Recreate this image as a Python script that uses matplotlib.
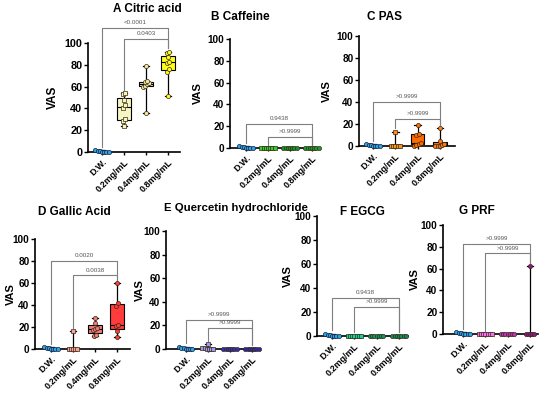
import numpy as np
import matplotlib.pyplot as plt

plt.rcParams['font.family'] = ['Liberation Sans', 'DejaVu Sans']
plt.rcParams['font.weight'] = 'bold'

groups = ["D.W.", "0.2mg/mL", "0.4mg/mL", "0.8mg/mL"]
dw = [2, 1, 1, 0, 0, 0, 0]
zeros = [0, 0, 0, 0, 0, 0, 0]

citric = [dw, [24, 28, 30, 40, 43, 48, 53, 54],
          [36, 60, 61, 62, 63, 64, 65, 79],
          [51, 73, 76, 82, 83, 87, 91, 92]]
caffeine = [dw, zeros, zeros, zeros]
pas = [dw, [13, 0, 0, 0, 0, 0],
       [0, 1, 2, 3, 10, 11, 19],
       [0, 0, 0, 1, 2, 5, 16]]
gallic = [dw, [16, 0, 0, 0, 0, 0],
          [12, 13, 17, 18, 19, 24, 28],
          [11, 16, 21, 22, 39, 42, 60]]
quercetin = [dw, [1, 4, 1, 0, 0, 0, 0], zeros, zeros]
egcg = [dw, zeros, zeros, zeros]
prf = [dw, zeros, zeros, [0, 0, 0, 62, 0, 0]]

titles = ["A Citric acid", "B Caffeine", "C PAS", "D Gallic Acid",
          "E Quercetin hydrochloride", "F EGCG", "G PRF"]
pvals = [["<0.0001", "0.0403"], ["0.9438", ">0.9999"], [">0.9999", ">0.9999"],
         ["0.0020", "0.0038"], [">0.9999", ">0.9999"], ["0.9438", ">0.9999"],
         [">0.9999", ">0.9999"]]
datasets = [citric, caffeine, pas, gallic, quercetin, egcg, prf]

blue = "#29a9e0"
colors = [
    [blue, "#f6f6c4", "#efe9a8", "#ffff1a"],
    [blue, "#33cc33", "#0c9a2c", "#16a035"],
    [blue, "#f7931e", "#ff6a00", "#ff7b1c"],
    [blue, "#f4a3a0", "#f27b7b", "#ff3b3b"],
    [blue, "#9b9bf5", "#3030c0", "#2a2ab8"],
    [blue, "#12d39b", "#0a9a6a", "#0b8d60"],
    [blue, "#f76ef7", "#c232c2", "#8d1a8d"],
]

# layout in pixels: left, right, y(100), y(0); xlim; bracket levels; title pos
W, H = 550, 396
rects = [(88, 180, 43, 152), (230, 320, 39, 148), (359, 455, 36, 146),
         (35, 130, 239, 349), (166, 260, 231, 349), (317, 408, 216, 336),
         (443, 538, 225, 334)]
xlims = [(-0.64, 3.55), (-0.73, 3.36), (-0.63, 3.68), (-0.73, 3.59),
         (-0.9, 3.36), (-0.67, 3.4), (-0.9, 3.36)]
levels = [(114, 104), (22, 10), (40, 25), (80, 67), (25, 18), (32, 24), (83, 74)]
title_pos = [(147, 9), (240, 17), (384, 17), (74, 212), (236, 208), (362, 212), (477, 211)]
vas_x = [59, 203, 332, 16, 145, 293, 420]


def swarm(vals, spacing=0.1):
    vals = np.asarray(vals, float)
    offs = np.zeros(len(vals))
    order = np.argsort(vals, kind="stable")
    bins = []
    for i in order:
        if bins and abs(vals[i] - vals[bins[-1][0]]) < 4:
            bins[-1].append(i)
        else:
            bins.append([i])
    for b in bins:
        b = sorted(b)
        n = len(b)
        offs[b] = (np.arange(n) - (n - 1) / 2) * spacing
    return offs


fig = plt.figure(figsize=(5.5, 3.96), dpi=100)

for k, data in enumerate(datasets):
    l, r, t, b = rects[k]
    ax = fig.add_axes([l / W, 1 - b / H, (r - l) / W, (b - t) / H])
    big = k == 0
    pos = np.arange(4)
    bp = ax.boxplot(data, positions=pos, widths=0.62, whis=(0, 100),
                    patch_artist=True, showfliers=False, capwidths=0.3,
                    medianprops=dict(color="black", lw=0.8),
                    whiskerprops=dict(color="black", lw=0.9),
                    capprops=dict(color="black", lw=0.9),
                    boxprops=dict(lw=0.8))
    for j, patch in enumerate(bp["boxes"]):
        patch.set_facecolor(colors[k][j])
        patch.set_edgecolor("black")
    for j, vals in enumerate(data):
        xs = pos[j] + swarm(vals)
        ax.scatter(xs, vals, s=9, marker="o" if j != 1 else "s",
                   facecolor=colors[k][j], edgecolor="#1a1a40" if j == 0 else "#3a2a10",
                   linewidths=0.5, zorder=5, clip_on=False)

    # significance brackets: D.W. vs 0.8 and 0.2 vs 0.8
    top = max(data[3]) + 3
    for (x0, lev, lab) in [(0, levels[k][0], pvals[k][0]), (1, levels[k][1], pvals[k][1])]:
        ax.plot([x0, x0, 3, 3], [max(data[x0]) + 3, lev, lev, top],
                color="#7f7f7f", lw=0.8, clip_on=False, zorder=3)
        ax.text((x0 + 3) / 2, lev + 2.5, lab, ha="center", va="bottom",
                fontsize=4.5, color="#555555", fontweight="normal")

    ax.set_ylim(0, 100)
    ax.set_xlim(*xlims[k])
    ax.set_yticks(range(0, 101, 20))
    ax.set_xticks(pos)
    ax.set_xticklabels(groups, rotation=45, ha="right", rotation_mode="anchor",
                       fontsize=6.5, fontweight="bold")
    ax.tick_params(axis="y", labelsize=7.8 if big else 7.2, length=3, width=1, pad=1)
    ax.tick_params(axis="x", length=2, width=1, pad=2)
    for lab in ax.get_yticklabels():
        lab.set_fontweight("bold")
    ax.set_ylabel("VAS", fontsize=8.5 if big else 8, fontweight="bold")
    ax.yaxis.set_label_coords((vas_x[k] - l) / (r - l), 0.5)
    for s in ["top", "right"]:
        ax.spines[s].set_visible(False)
    for s in ["left", "bottom"]:
        ax.spines[s].set_linewidth(1.2)
    ax.patch.set_alpha(0)

    tx, ty = title_pos[k]
    fig.text(tx / W, 1 - ty / H, titles[k], ha="center", va="center",
             fontsize=8.2 if k == 4 else 8.5, fontweight="bold")

fig.savefig("out.png", dpi=100)
